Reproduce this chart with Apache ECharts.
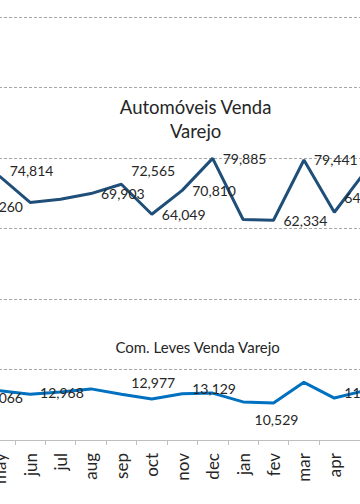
<!DOCTYPE html>
<html>
<head>
<meta charset="utf-8">
<script src="https://cdn.jsdelivr.net/npm/echarts@6/dist/echarts.min.js"></script>
<style>
html,body{margin:0;padding:0;background:#fff;overflow:hidden;width:360px;height:504px;}
#c{position:absolute;left:-45.6px;top:0;width:425.6px;height:504px;}
</style>
</head>
<body>
<div id="c"></div>
<script>
// Categories (the chart is a cropped window: first and last are partly off-screen)
var categories = ['apr', 'may', 'jun', 'jul', 'aug', 'sep', 'oct', 'nov', 'dec', 'jan', 'fev', 'mar', 'apr', 'may'];
// Automóveis Venda Varejo
var autoValues = [66260, 74814, 67400, 68300, 69903, 72565, 64049, 70810, 79885, 62550, 62334, 79441, 64612, 76000];
// Com. Leves Venda Varejo
var leveValues = [12066, 14000, 12968, 13600, 14500, 12977, 11650, 13129, 13300, 10800, 10529, 16350, 11900, 14000];
// Y axis ticks
var yMin = 0, yMax = 120000, yStep = 20000;

// label placement per index (style, not data)
var autoLabelCfg = {
  0: {position: 'right'},
  1: {position: 'right', offset: [0, -6]},
  4: {position: 'right'},
  5: {position: 'right', offset: [0, -14]},
  6: {position: 'right'},
  7: {position: 'right'},
  8: {position: 'right'},
  10: {position: 'right'},
  11: {position: 'right'},
  12: {position: 'right', offset: [0, -15]}
};
var leveLabelCfg = {
  0: {position: 'right'},
  2: {position: 'right', offset: [0, -2]},
  5: {position: 'right', offset: [0, -12]},
  7: {position: 'right', offset: [0, -5]},
  10: {position: 'bottom', offset: [3, 0]},
  12: {position: 'right', offset: [0, -6]}
};

function fmt(v) { return v.toLocaleString('en-US'); }

function buildData(values, cfg) {
  return values.map(function (v, i) {
    var c = cfg[i];
    if (!c) return {value: v, label: {show: false}};
    return {value: v, label: Object.assign({show: true, distance: 10}, c)};
  });
}

var FONT = 'Lato';
var SHIFT = 45.6; // container is shifted left by this many px
var chart = echarts.init(document.getElementById('c'), null, {renderer: 'svg'});
chart.setOption({
  animation: false,
  backgroundColor: '#ffffff',
  title: [
    {
      text: 'Automóveis Venda\nVarejo',
      left: 191 + SHIFT, top: 90, textAlign: 'center',
      textStyle: {fontFamily: FONT, fontSize: 18.5, fontWeight: 'normal', color: '#262626', lineHeight: 24}
    },
    {
      text: 'Com. Leves Venda Varejo',
      left: 193 + SHIFT, top: 333, textAlign: 'center',
      textStyle: {fontFamily: FONT, fontSize: 15, fontWeight: 'normal', color: '#262626', lineHeight: 18}
    }
  ],
  grid: {
    left: 0,
    right: 0,
    top: 17,
    bottom: 64,
    containLabel: false
  },
  xAxis: {
    type: 'category',
    data: categories,
    boundaryGap: true,
    axisLine: {lineStyle: {color: '#BFBFBF', width: 1}},
    axisTick: {show: true, length: 5, lineStyle: {color: '#BFBFBF'}},
    axisLabel: {
      rotate: 90, margin: 13,
      interval: function (i) { return i < categories.length - 1; },
      fontFamily: FONT, fontSize: 17, color: '#262626'
    },
    splitLine: {show: false}
  },
  yAxis: {
    type: 'value',
    min: yMin, max: yMax, interval: yStep,
    axisLabel: {show: false},
    axisLine: {show: false},
    axisTick: {show: false},
    splitLine: {show: true, lineStyle: {color: '#A6A6A6', type: [3, 2], width: 1}}
  },
  series: [
    {
      name: 'Automóveis Venda Varejo',
      type: 'line',
      data: buildData(autoValues, autoLabelCfg),
      symbol: 'circle',
      symbolSize: 0,
      showSymbol: true,
      lineStyle: {color: '#1F4E79', width: 3},
      itemStyle: {color: '#1F4E79'},
      label: {
        formatter: function (p) { return fmt(p.value); },
        fontFamily: FONT, fontSize: 14, color: '#262626'
      }
    },
    {
      name: 'Com. Leves Venda Varejo',
      type: 'line',
      data: buildData(leveValues, leveLabelCfg),
      symbol: 'circle',
      symbolSize: 0,
      showSymbol: true,
      lineStyle: {color: '#0070C0', width: 3},
      itemStyle: {color: '#0070C0'},
      label: {
        formatter: function (p) { return fmt(p.value); },
        fontFamily: FONT, fontSize: 14, color: '#262626'
      }
    }
  ]
});
</script>
</body>
</html>
